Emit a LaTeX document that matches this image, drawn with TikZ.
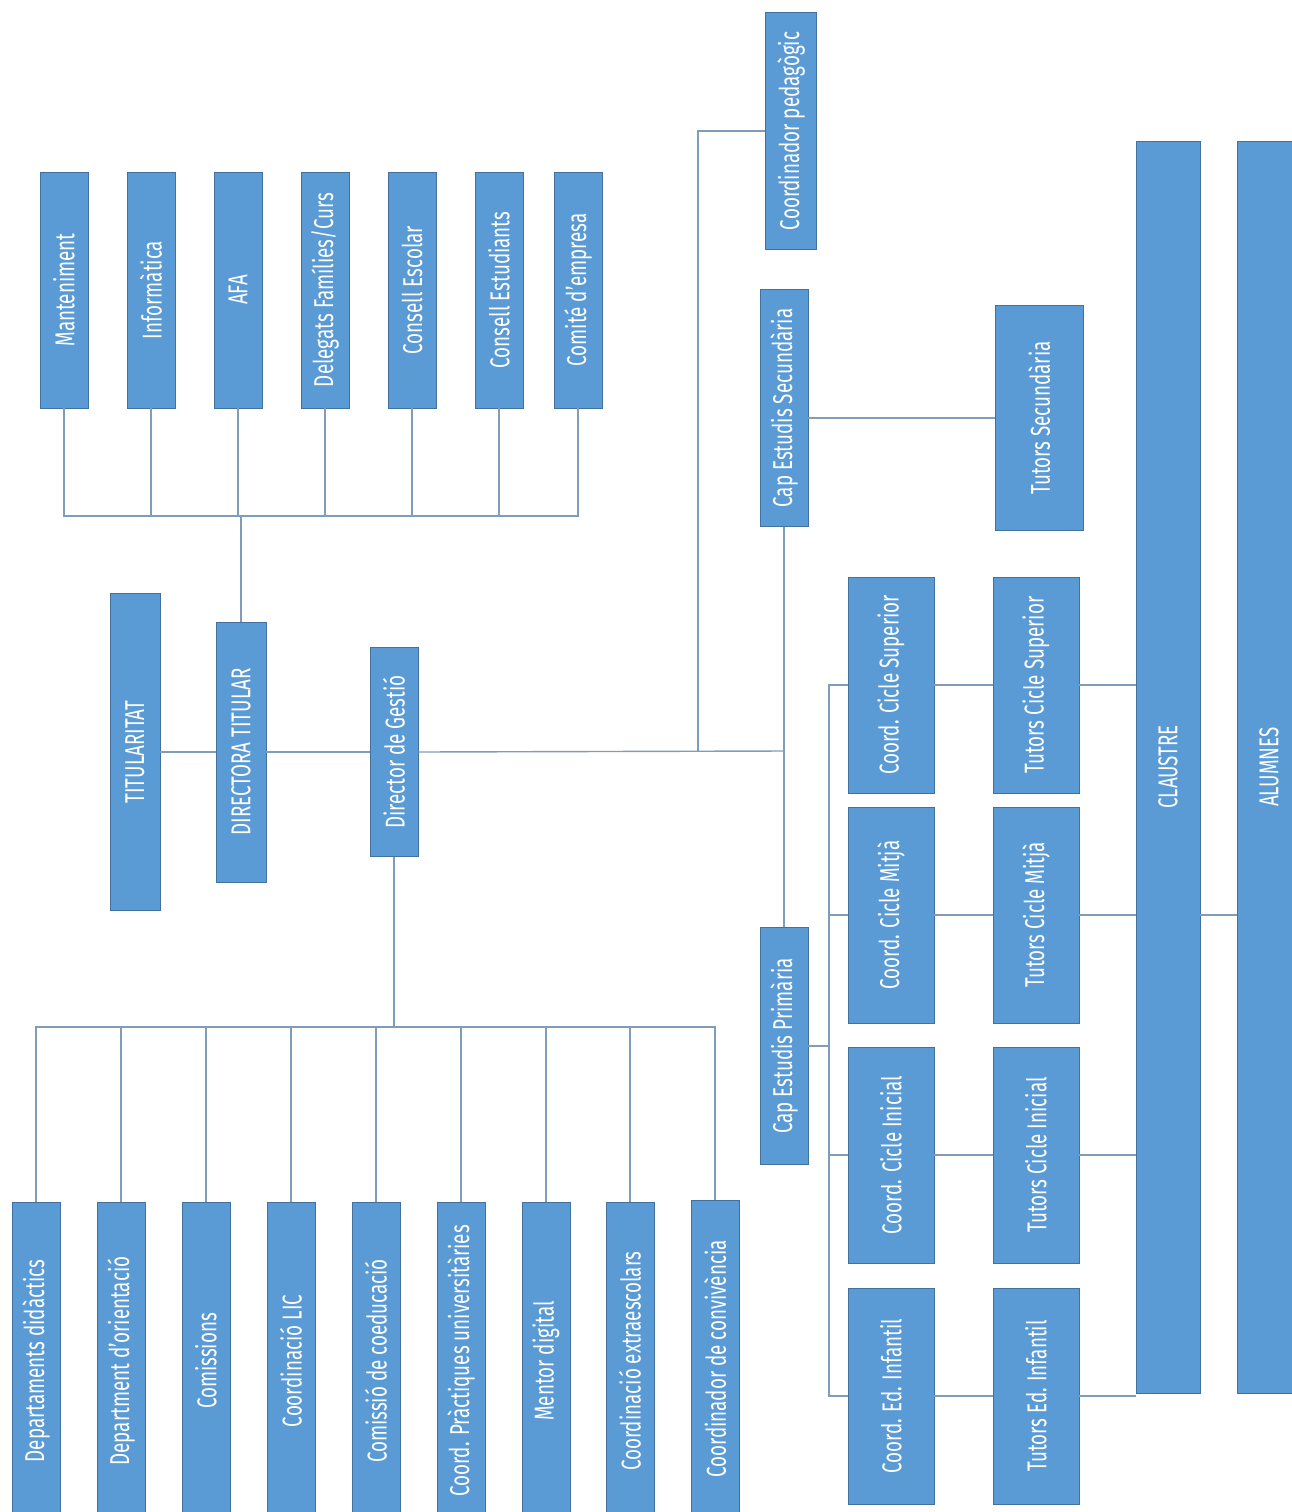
\documentclass[tikz,border=0pt]{standalone}
\usepackage{fontspec}
\newfontfamily\orgfont[FakeStretch=0.69]{Fira Sans}
\definecolor{cbox}{HTML}{5B9BD5}
\definecolor{cedge}{HTML}{41719C}
\definecolor{cline}{HTML}{7F9CB9}
\newlength\px
\setlength\px{0.02cm}

\begin{document}
\begin{tikzpicture}[
  x=0.02cm, y=-0.02cm,
  font=\orgfont\fontsize{15.5}{17}\selectfont,
  every node/.style={align=center},
  box/.style={draw=cedge, fill=cbox, text=white, line width=0.5pt, inner sep=0pt},
  topbox/.style={box, minimum width=48\px, minimum height=236\px},
  botbox/.style={box, minimum width=48\px, minimum height=318\px},
  cycbox/.style={box, minimum width=86\px, minimum height=216\px},
  link/.style={draw=cline, line width=0.8pt},
]
\useasboundingbox (0,0) rectangle (1292,1512);

% top row
\node[topbox] (mant)   at (64,290)  {\rotatebox{90}{Manteniment}};
\node[topbox] (info)   at (151,290) {\rotatebox{90}{Informàtica}};
\node[topbox] (afa)    at (238,290) {\rotatebox{90}{AFA}};
\node[topbox] (deleg)  at (325,290) {\rotatebox{90}{Delegats Famílies/Curs}};
\node[topbox] (cesc)   at (412,290) {\rotatebox{90}{Consell Escolar}};
\node[topbox] (cest)   at (499,290) {\rotatebox{90}{Consell Estudiants}};
\node[topbox] (comite) at (578,290) {\rotatebox{90}{Comité d’empresa}};

% direction
\node[box, minimum width=50\px, minimum height=317\px] (titul) at (135,752)
  {\rotatebox{90}{TITULARITAT}};
\node[box, minimum width=50\px, minimum height=260\px] (dirt)  at (241,752)
  {\rotatebox{90}{DIRECTORA TITULAR}};
\node[box, minimum width=48\px, minimum height=209\px] (dirg)  at (394,752)
  {\rotatebox{90}{Director de Gestió}};

% bottom row
\node[botbox] (dept)   at (36,1361)  {\rotatebox{90}{Departaments didàctics}};
\node[botbox] (orient) at (121,1361) {\rotatebox{90}{Department d’orientació}};
\node[botbox] (comis)  at (206,1361) {\rotatebox{90}{Comissions}};
\node[botbox] (lic)    at (291,1361) {\rotatebox{90}{Coordinació LIC}};
\node[botbox] (coedu)  at (376,1361) {\rotatebox{90}{Comissió de coeducació}};
\node[botbox] (pract)  at (461,1361) {\rotatebox{90}{Coord. Pràctiques universitàries}};
\node[botbox] (mentor) at (546,1361) {\rotatebox{90}{Mentor digital}};
\node[botbox] (extra)  at (630,1361) {\rotatebox{90}{Coordinació extraescolars}};
\node[botbox] (conviv) at (715,1359) {\rotatebox{90}{Coordinador de convivència}};

% studies
\node[box, minimum width=51\px, minimum height=237\px] (cped)    at (791,131)
  {\rotatebox{90}{Coordinador pedagògic}};
\node[box, minimum width=48\px, minimum height=237\px] (capsec)  at (784,408)
  {\rotatebox{90}{Cap Estudis Secundària}};
\node[box, minimum width=88\px, minimum height=225\px] (tutsec)  at (1039,418)
  {\rotatebox{90}{Tutors Secundària}};
\node[box, minimum width=48\px, minimum height=237\px] (capprim) at (784,1046)
  {\rotatebox{90}{Cap Estudis Primària}};

% cycles
\node[cycbox] (csup) at (891,685)  {\rotatebox{90}{Coord. Cicle Superior}};
\node[cycbox] (cmit) at (891,915)  {\rotatebox{90}{Coord. Cicle Mitjà}};
\node[cycbox] (cini) at (891,1155) {\rotatebox{90}{Coord. Cicle Inicial}};
\node[cycbox] (cinf) at (891,1396) {\rotatebox{90}{Coord. Ed. Infantil}};
\node[cycbox] (tsup) at (1036,685)  {\rotatebox{90}{Tutors Cicle Superior}};
\node[cycbox] (tmit) at (1036,915)  {\rotatebox{90}{Tutors Cicle Mitjà}};
\node[cycbox] (tini) at (1036,1155) {\rotatebox{90}{Tutors Cicle Inicial}};
\node[cycbox] (tinf) at (1036,1396) {\rotatebox{90}{Tutors Ed. Infantil}};

% staff
\node[box, minimum width=64\px, minimum height=1252\px] (claus) at (1168,767)
  {\rotatebox{90}{CLAUSTRE}};
\node[box, minimum width=64\px, minimum height=1252\px] (alum)  at (1269,767)
  {\rotatebox{90}{ALUMNES}};

\coordinate (topbus) at (242,516);
\coordinate (botbus) at (394,1027);
\coordinate (jn) at (784,751);
\coordinate (jp) at (698,751);
\coordinate (pbus) at (829,1047);

% top links
\draw[link] (mant.south) |- (comite.south |- topbus) -- (comite.south);
\draw[link] (info.south) -- (info.south |- topbus);
\draw[link] (afa.south) -- (afa.south |- topbus);
\draw[link] (deleg.south) -- (deleg.south |- topbus);
\draw[link] (cesc.south) -- (cesc.south |- topbus);
\draw[link] (cest.south) -- (cest.south |- topbus);
\draw[link] (dirt.north) -- (dirt.north |- topbus);

\draw[link] (titul) -- (dirt);
\draw[link] (dirt) -- (dirg);
\draw[link] (dirg.east) -- (jn);
\draw[link] (jp) |- (cped.west);
\draw[link] (capsec) -- (capprim);
\draw[link] (capsec.east |- tutsec) -- (tutsec.west);

% bottom links
\draw[link, line width=1.6pt] (dirg.south) -- (botbus);
\draw[link] (dept.north) |- (conviv.north |- botbus) -- (conviv.north);
\draw[link] (orient.north) -- (orient.north |- botbus);
\draw[link] (comis.north) -- (comis.north |- botbus);
\draw[link] (lic.north) -- (lic.north |- botbus);
\draw[link] (coedu.north) -- (coedu.north |- botbus);
\draw[link] (pract.north) -- (pract.north |- botbus);
\draw[link] (mentor.north) -- (mentor.north |- botbus);
\draw[link] (extra.north) -- (extra.north |- botbus);

% primary links
\draw[link] (capprim.east) -- (capprim.east -| pbus);
\draw[link] (csup.west) -| (pbus) |- (cinf.west);
\draw[link] (cmit.west) -- (cmit.west -| pbus);
\draw[link] (cini.west) -- (cini.west -| pbus);
\draw[link] (csup) -- (tsup);
\draw[link] (cmit) -- (tmit);
\draw[link] (cini) -- (tini);
\draw[link] (cinf) -- (tinf);
\draw[link] (tsup.east) -- (tsup.east -| claus.west);
\draw[link] (tmit.east) -- (tmit.east -| claus.west);
\draw[link] (tini.east) -- (tini.east -| claus.west);
\draw[link] (tinf.east) -- (tinf.east -| claus.west);
\draw[link] (tmit.east -| claus.east) -- (tmit.east -| alum.west);
\end{tikzpicture}
\end{document}
